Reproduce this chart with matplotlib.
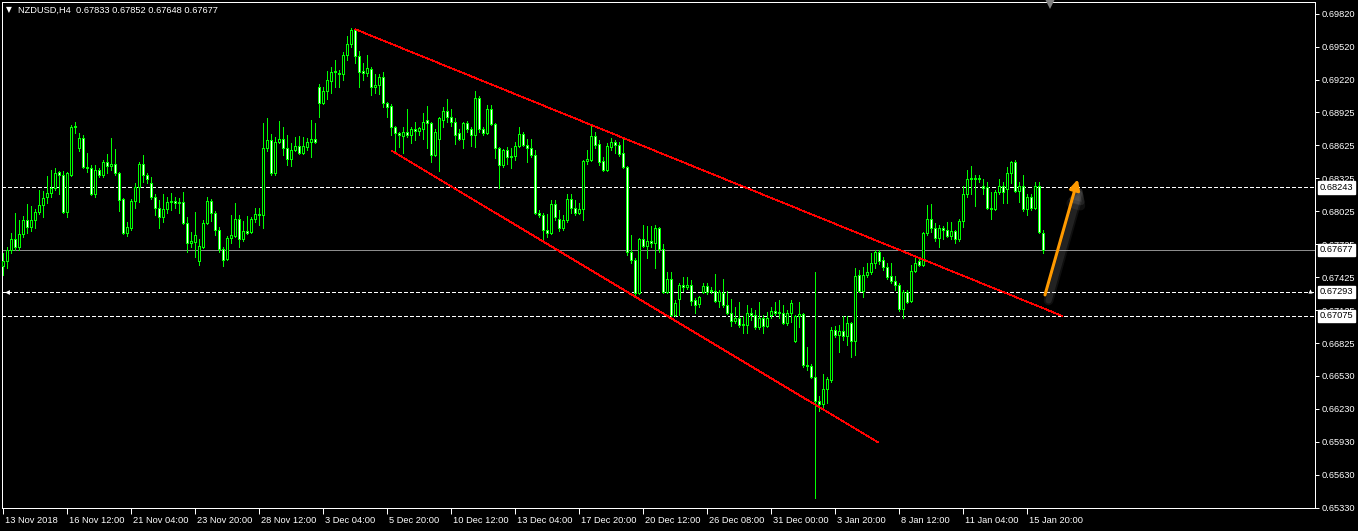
import matplotlib
matplotlib.use("Agg")
import matplotlib.pyplot as plt
import matplotlib.transforms as mtransforms
import numpy as np

# ---------------- data (NZDUSD H4) ----------------
opens = [
0.6753,0.6757,0.6767,0.6777,0.6770,0.6782,0.6795,0.6788,0.6795,0.6802,
0.6808,0.6816,0.6819,0.6824,0.6838,0.6836,0.6802,0.6836,0.6879,0.6860,
0.6869,0.6843,0.6842,0.6818,0.6840,0.6836,0.6847,0.6844,0.6846,0.6837,
0.6814,0.6783,0.6787,0.6812,0.6825,0.6846,0.6836,0.6828,0.6816,0.6806,
0.6797,0.6805,0.6811,0.6812,0.6810,0.6811,0.6792,0.6774,0.6775,0.6757,
0.6770,0.6792,0.6812,0.6801,0.6786,0.6768,0.6759,0.6778,0.6780,0.6796,
0.6777,0.6785,0.6784,0.6796,0.6800,0.6799,0.6860,0.6867,0.6837,0.6866,
0.6868,0.6860,0.6850,0.6858,0.6862,0.6856,0.6861,0.6866,0.6868,0.6916,
0.6901,0.6912,0.6921,0.6929,0.6928,0.6927,0.6945,0.6955,0.6967,0.6944,
0.6930,0.6928,0.6932,0.6916,0.6917,0.6925,0.6901,0.6898,0.6879,0.6874,
0.6871,0.6875,0.6872,0.6877,0.6876,0.6877,0.6886,0.6883,0.6854,0.6868,
0.6886,0.6894,0.6888,0.6884,0.6874,0.6868,0.6883,0.6877,0.6872,0.6906,
0.6877,0.6874,0.6896,0.6882,0.6860,0.6845,0.6858,0.6852,0.6853,0.6862,
0.6873,0.6863,0.6860,0.6854,0.6801,0.6799,0.6786,0.6783,0.6809,0.6796,
0.6787,0.6795,0.6814,0.6806,0.6801,0.6805,0.6848,0.6849,0.6871,0.6864,
0.6848,0.6840,0.6861,0.6866,0.6863,0.6856,0.6843,0.6766,0.6758,0.6728,
0.6777,0.6771,0.6776,0.6774,0.6787,0.6768,0.6729,0.6741,0.6708,0.6723,
0.6736,0.6734,0.6736,0.6722,0.6718,0.6729,0.6735,0.6730,0.6730,0.6721,
0.6728,0.6717,0.6710,0.6703,0.6706,0.6699,0.6699,0.6710,0.6708,0.6697,
0.6706,0.6698,0.6708,0.6712,0.6710,0.6710,0.6701,0.6710,0.6685,0.6707,
0.6709,0.6663,0.6662,0.6652,0.6630,0.6627,0.6641,0.6649,0.6695,0.6690,
0.6694,0.6689,0.6701,0.6685,0.6745,0.6730,0.6745,0.6747,0.6756,0.6766,
0.6758,0.6752,0.6744,0.6739,0.6736,0.6714,0.6729,0.6721,0.6748,0.6757,
0.6754,0.6783,0.6796,0.6787,0.6778,0.6787,0.6786,0.6780,0.6785,0.6777,
0.6794,0.6818,0.6832,0.6833,0.6832,0.6826,0.6825,0.6806,0.6805,0.6820,
0.6826,0.6823,0.6837,0.6847,0.6821,0.6826,0.6805,0.6816,0.6806,0.6826,
0.67833]

highs = [
0.6765,0.6770,0.6783,0.6801,0.6795,0.6798,0.6809,0.6807,0.6805,0.6822,
0.6821,0.6835,0.6840,0.6842,0.6839,0.6839,0.6838,0.6881,0.6884,0.6874,
0.6872,0.6856,0.6845,0.6845,0.6842,0.6849,0.6855,0.6869,0.6859,0.6838,
0.6815,0.6793,0.6814,0.6828,0.6847,0.6854,0.6837,0.6834,0.6818,0.6813,
0.6818,0.6816,0.6819,0.6816,0.6815,0.6820,0.6797,0.6784,0.6802,0.6777,
0.6795,0.6816,0.6814,0.6803,0.6788,0.6770,0.6780,0.6799,0.6810,0.6799,
0.6794,0.6798,0.6797,0.6806,0.6806,0.6883,0.6887,0.6873,0.6870,0.6885,
0.6879,0.6872,0.6865,0.6870,0.6871,0.6870,0.6869,0.6886,0.6883,0.6918,
0.6916,0.6930,0.6934,0.6940,0.6931,0.6947,0.6962,0.6969,0.6968,0.6948,
0.6937,0.6945,0.6934,0.6927,0.6927,0.6929,0.6902,0.6900,0.6880,0.6875,
0.6879,0.6896,0.6879,0.6884,0.6879,0.6892,0.6898,0.6884,0.6877,0.6888,
0.6897,0.6905,0.6896,0.6887,0.6877,0.6884,0.6885,0.6879,0.6912,0.6907,
0.6879,0.6899,0.6899,0.6883,0.6861,0.6859,0.6861,0.6860,0.6866,0.6879,
0.6875,0.6868,0.6868,0.6858,0.6804,0.6801,0.6800,0.6813,0.6813,0.6804,
0.6799,0.6818,0.6818,0.6813,0.6810,0.6849,0.6858,0.6880,0.6875,0.6867,
0.6852,0.6865,0.6869,0.6867,0.6866,0.6868,0.6844,0.6781,0.6760,0.6778,
0.6790,0.6789,0.6789,0.6790,0.6788,0.6773,0.6747,0.6747,0.6722,0.6737,
0.6743,0.6743,0.6740,0.6724,0.6726,0.6737,0.6737,0.6734,0.6746,0.6731,
0.6741,0.6730,0.6723,0.6716,0.6720,0.6707,0.6717,0.6715,0.6713,0.6720,
0.6708,0.6711,0.6716,0.6720,0.6722,0.6717,0.6713,0.6722,0.6708,0.6720,
0.6710,0.6679,0.6664,0.6747,0.6635,0.6655,0.6652,0.6697,0.6698,0.6699,
0.6707,0.6707,0.6702,0.6751,0.6749,0.6752,0.6756,0.6765,0.6767,0.6767,
0.6761,0.6756,0.6756,0.6744,0.6737,0.6731,0.6731,0.6754,0.6760,0.6760,
0.6784,0.6808,0.6809,0.6792,0.6790,0.6789,0.6793,0.6793,0.6786,0.6796,
0.6826,0.6840,0.6844,0.6836,0.6836,0.6832,0.6829,0.6820,0.6822,0.6832,
0.6829,0.6843,0.6848,0.6849,0.6829,0.6836,0.6818,0.6818,0.6829,0.6829,
0.67852]

lows = [
0.6745,0.6751,0.6765,0.6767,0.6767,0.6779,0.6783,0.6785,0.6787,0.6800,
0.6797,0.6810,0.6816,0.6822,0.6818,0.6801,0.6797,0.6835,0.6874,0.6857,
0.6842,0.6838,0.6817,0.6816,0.6834,0.6834,0.6837,0.6840,0.6836,0.6803,
0.6782,0.6780,0.6786,0.6806,0.6811,0.6829,0.6828,0.6814,0.6799,0.6787,
0.6793,0.6801,0.6804,0.6806,0.6801,0.6791,0.6766,0.6770,0.6761,0.6754,
0.6769,0.6791,0.6794,0.6781,0.6766,0.6753,0.6758,0.6774,0.6779,0.6770,
0.6776,0.6782,0.6783,0.6793,0.6790,0.6787,0.6857,0.6836,0.6836,0.6865,
0.6854,0.6845,0.6844,0.6857,0.6855,0.6855,0.6858,0.6852,0.6865,0.6888,
0.6900,0.6905,0.6910,0.6916,0.6916,0.6922,0.6940,0.6952,0.6937,0.6916,
0.6922,0.6926,0.6908,0.6910,0.6909,0.6897,0.6888,0.6872,0.6857,0.6861,
0.6856,0.6870,0.6865,0.6867,0.6872,0.6868,0.6860,0.6847,0.6853,0.6839,
0.6879,0.6884,0.6880,0.6864,0.6867,0.6860,0.6875,0.6862,0.6861,0.6875,
0.6872,0.6873,0.6881,0.6851,0.6824,0.6843,0.6846,0.6842,0.6849,0.6861,
0.6862,0.6847,0.6852,0.6800,0.6797,0.6777,0.6779,0.6782,0.6795,0.6785,
0.6786,0.6793,0.6801,0.6799,0.6800,0.6795,0.6846,0.6848,0.6860,0.6845,
0.6839,0.6839,0.6858,0.6856,0.6853,0.6842,0.6763,0.6756,0.6725,0.6727,
0.6770,0.6760,0.6770,0.6751,0.6766,0.6728,0.6728,0.6707,0.6707,0.6708,
0.6730,0.6732,0.6717,0.6710,0.6716,0.6728,0.6727,0.6728,0.6720,0.6716,
0.6716,0.6709,0.6698,0.6701,0.6697,0.6692,0.6692,0.6704,0.6696,0.6696,
0.6692,0.6697,0.6706,0.6708,0.6706,0.6700,0.6699,0.6702,0.6684,0.6697,
0.6661,0.6658,0.6651,0.6542,0.6621,0.6625,0.6628,0.6647,0.6688,0.6675,
0.6686,0.6681,0.6670,0.6672,0.6729,0.6725,0.6743,0.6746,0.6751,0.6755,
0.6749,0.6741,0.6737,0.6731,0.6712,0.6706,0.6719,0.6720,0.6747,0.6753,
0.6753,0.6781,0.6784,0.6776,0.6770,0.6777,0.6779,0.6777,0.6774,0.6776,
0.6788,0.6816,0.6818,0.6807,0.6829,0.6818,0.6805,0.6796,0.6804,0.6818,
0.6810,0.6810,0.6828,0.6820,0.6811,0.6803,0.6799,0.6804,0.6805,0.6783,
0.67648]

closes = [
0.6757,0.6767,0.6777,0.6770,0.6782,0.6795,0.6788,0.6795,0.6802,0.6808,
0.6815,0.6819,0.6824,0.6837,0.6836,0.6802,0.6837,0.6879,0.6880,0.6869,
0.6843,0.6842,0.6818,0.6840,0.6836,0.6847,0.6844,0.6846,0.6837,0.6813,
0.6783,0.6788,0.6812,0.6825,0.6846,0.6836,0.6832,0.6816,0.6806,0.6797,
0.6805,0.6811,0.6812,0.6810,0.6811,0.6792,0.6774,0.6776,0.6781,0.6771,
0.6792,0.6812,0.6801,0.6786,0.6768,0.6758,0.6778,0.6781,0.6796,0.6777,
0.6785,0.6783,0.6796,0.6800,0.6799,0.6860,0.6867,0.6837,0.6866,0.6868,
0.6860,0.6850,0.6858,0.6862,0.6856,0.6862,0.6866,0.6868,0.6866,0.6901,
0.6912,0.6922,0.6929,0.6930,0.6927,0.6945,0.6955,0.6967,0.6944,0.6929,
0.6928,0.6933,0.6916,0.6917,0.6925,0.6901,0.6897,0.6879,0.6874,0.6872,
0.6875,0.6872,0.6877,0.6876,0.6878,0.6884,0.6883,0.6854,0.6875,0.6887,
0.6894,0.6888,0.6884,0.6872,0.6868,0.6883,0.6877,0.6872,0.6906,0.6877,
0.6874,0.6896,0.6882,0.6860,0.6845,0.6858,0.6852,0.6853,0.6862,0.6873,
0.6863,0.6860,0.6854,0.6801,0.6799,0.6786,0.6783,0.6809,0.6797,0.6787,
0.6795,0.6814,0.6806,0.6801,0.6805,0.6848,0.6850,0.6871,0.6863,0.6847,
0.6840,0.6862,0.6866,0.6863,0.6855,0.6843,0.6766,0.6758,0.6728,0.6777,
0.6771,0.6776,0.6774,0.6787,0.6768,0.6729,0.6741,0.6708,0.6719,0.6736,
0.6734,0.6736,0.6721,0.6717,0.6725,0.6735,0.6729,0.6731,0.6721,0.6729,
0.6717,0.6710,0.6703,0.6706,0.6699,0.6700,0.6710,0.6708,0.6697,0.6706,
0.6698,0.6706,0.6712,0.6710,0.6711,0.6701,0.6710,0.6719,0.6707,0.6709,
0.6663,0.6662,0.6652,0.6630,0.6627,0.6641,0.6650,0.6695,0.6690,0.6694,
0.6689,0.6701,0.6685,0.6744,0.6730,0.6745,0.6747,0.6756,0.6766,0.6757,
0.6752,0.6743,0.6739,0.6736,0.6714,0.6729,0.6720,0.6748,0.6756,0.6754,
0.6783,0.6796,0.6787,0.6778,0.6787,0.6786,0.6780,0.6785,0.6777,0.6794,
0.6818,0.6832,0.6833,0.6832,0.6833,0.6824,0.6806,0.6805,0.6820,0.6826,
0.6820,0.6837,0.6847,0.6821,0.6826,0.6805,0.6816,0.6806,0.6826,0.6784,
0.67677]

time_labels = ["13 Nov 2018", "16 Nov 12:00", "21 Nov 04:00", "23 Nov 20:00",
               "28 Nov 12:00", "3 Dec 04:00", "5 Dec 20:00", "10 Dec 12:00",
               "13 Dec 04:00", "17 Dec 20:00", "20 Dec 12:00", "26 Dec 08:00",
               "31 Dec 00:00", "3 Jan 20:00", "8 Jan 12:00", "11 Jan 04:00",
               "15 Jan 20:00"]
time_label_bars = [0, 16, 32, 48, 64, 80, 96, 112, 128, 144, 160, 176,
                   192, 208, 224, 240, 256]

price_ticks = ["0.69820", "0.69520", "0.69220", "0.68925", "0.68625", "0.68325",
               "0.68025", "0.67725", "0.67425", "0.67125", "0.66825", "0.66530",
               "0.66230", "0.65930", "0.65630", "0.65330"]

dashed_levels = [0.68243, 0.67293, 0.67075]
bid_level = 0.67677

# trend channel anchors (bar index, price)
upper_x = [88.0, 264.7]
upper_y = [0.69681, 0.67075]
lower_x = [97.1, 218.7]
lower_y = [0.68577, 0.65925]

# projected move arrow (bar index, price)
arrow_x = [260.4, 268.6]
arrow_y = [0.67266, 0.68317]

title = "NZDUSD,H4  0.67833 0.67852 0.67648 0.67677"

assert len(opens) == len(highs) == len(lows) == len(closes) == 261

# ---------------- figure ----------------
W, H = 1358, 531
fig = plt.figure(figsize=(W / 100, H / 100), dpi=100, facecolor="black")
L, R, T, B = 2, 1315, 2, 508
ax = fig.add_axes([L / W, 1 - B / H, (R - L) / W, (B - T) / H])
ax.set_facecolor("black")

FONT = ["Liberation Sans", "DejaVu Sans"]
FS = 6.7
LIME = "#00ff00"
PX = 0.72  # one pixel in points at 100 dpi

n = len(opens)
x = np.arange(n)
o = np.array(opens); h = np.array(highs); l = np.array(lows); c = np.array(closes)

ax.set_xlim(-0.33, 327.9)
ax.set_ylim(0.65329, 0.69929)

# horizontal levels
for lv in dashed_levels:
    ax.axhline(lv, color="white", lw=PX, dashes=(4, 2.5), zorder=1, antialiased=False)
ax.axhline(bid_level, color="#8c8c8c", lw=PX, zorder=1, antialiased=False)

# wicks
ax.vlines(x, np.minimum(l, np.minimum(o, c)), np.maximum(h, np.maximum(o, c)),
          color=LIME, lw=PX, zorder=2, antialiased=False)
# bodies
bull = c >= o
bottom = np.minimum(o, c)
height = np.abs(c - o)
ax.bar(x[bull], height[bull], bottom=bottom[bull], width=0.5,
       facecolor="black", edgecolor=LIME, linewidth=PX, zorder=3, antialiased=False)
ax.bar(x[~bull], height[~bull], bottom=bottom[~bull], width=0.5,
       facecolor="white", edgecolor=LIME, linewidth=PX, zorder=3, antialiased=False)

# trend channel
ax.plot(upper_x, upper_y, color="red", lw=0.55, zorder=4, antialiased=False)
ax.plot(lower_x, lower_y, color="red", lw=0.55, zorder=4, antialiased=False)

# arrow with soft shadow
for k, (lw_s, a_s) in enumerate([(7, 0.10), (4.5, 0.14)]):
    ax.annotate("", xy=(arrow_x[1] + 0.9, arrow_y[1] - 0.0005),
                xytext=(arrow_x[0] + 0.9, arrow_y[0] - 0.0005),
                arrowprops=dict(arrowstyle="-|>", color="#9a9a9a", alpha=a_s,
                                lw=lw_s, mutation_scale=17, shrinkA=0, shrinkB=0),
                zorder=5, annotation_clip=False)
ax.annotate("", xy=(arrow_x[1], arrow_y[1]), xytext=(arrow_x[0], arrow_y[0]),
            arrowprops=dict(arrowstyle="-|>", color="#ff9a00", lw=2.2,
                            mutation_scale=15, shrinkA=0, shrinkB=0),
            zorder=6, annotation_clip=False)

# spines
for s in ax.spines.values():
    s.set_color("white")
    s.set_linewidth(PX)

# y axis on right
ax.yaxis.tick_right()
ax.set_yticks([float(t) for t in price_ticks])
ax.set_yticklabels(price_ticks)
ax.tick_params(axis="y", direction="out", length=3, width=PX, color="white",
               labelcolor="white", labelsize=FS, pad=2)
for t in ax.get_yticklabels():
    t.set_fontfamily(FONT)

# x axis
ax.set_xticks(time_label_bars)
ax.set_xticklabels(time_labels)
ax.tick_params(axis="x", direction="out", length=4, width=PX, color="white",
               labelcolor="white", labelsize=FS, pad=1.5)
offset = mtransforms.ScaledTranslation(2 / 100, 0, fig.dpi_scale_trans)
for t in ax.get_xticklabels():
    t.set_fontfamily(FONT)
    t.set_horizontalalignment("left")
    t.set_transform(t.get_transform() + offset)

# price boxes on right axis
ytrans = mtransforms.blended_transform_factory(ax.transAxes, ax.transData)
for lv in dashed_levels + [bid_level]:
    ax.text(1.0033, lv, f"{lv:.5f}", transform=ytrans, ha="left", va="center",
            fontsize=FS, family=FONT, color="black", zorder=10, clip_on=False,
            bbox=dict(boxstyle="square,pad=0.18", facecolor="white",
                      edgecolor="white"))

# small markers on the 0.67293 line
ax.plot([0.9], [dashed_levels[1]], marker="<", color="white", ms=3.5, zorder=7,
        clip_on=False, markeredgewidth=0)
ax.plot([326.6], [dashed_levels[1] + 0.00005], marker="^", color="white", ms=3,
        zorder=7, clip_on=False, markeredgewidth=0)

# chart shift marker at top
xtop = mtransforms.blended_transform_factory(ax.transData, ax.transAxes)
ax.plot([261.7], [0.996], marker="v", color="#7f7f7f", ms=6.5, transform=xtop,
        clip_on=False, markeredgewidth=0, zorder=8)

# title
fig.text(6 / W, 1 - 10 / H, "\u25bc", color="white", fontsize=5.5,
         family=["DejaVu Sans"], va="center", ha="left")
fig.text(18 / W, 1 - 10 / H, title, color="white", fontsize=FS, family=FONT,
         va="center", ha="left")

fig.savefig("out.png", dpi=100, facecolor="black")
